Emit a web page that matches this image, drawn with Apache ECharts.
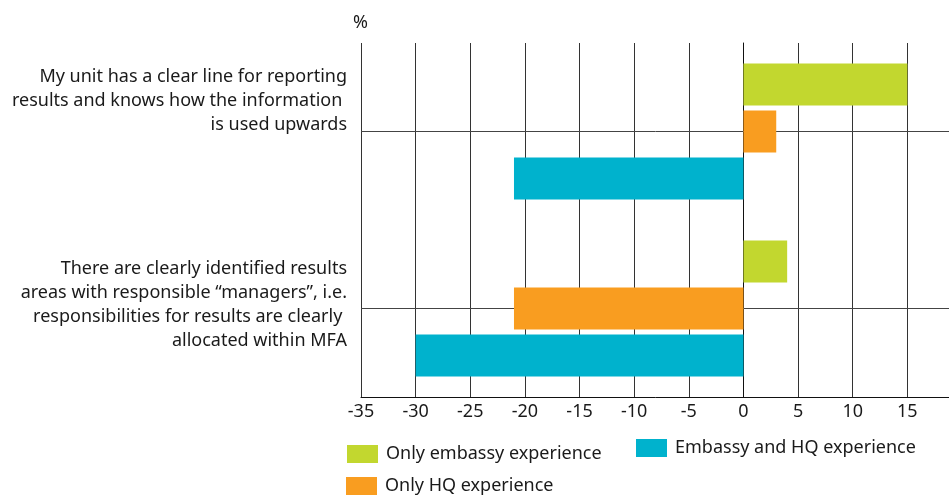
<!DOCTYPE html>
<html>
<head>
<meta charset="utf-8">
<script src="https://cdn.jsdelivr.net/npm/echarts@6/dist/echarts.min.js"></script>
<style>
    html, body { margin: 0; padding: 0; background: #fff; }
    #chart { width: 949px; height: 498px; }
</style>
</head>
<body>
<div id="chart"></div>
<script>
// statements (y axis categories)
var categories = [
    'My unit has a clear line for reporting\nresults and knows how the information \nis used upwards',
    'There are clearly identified results\nareas with responsible \u201cmanagers\u201d, i.e.\nresponsibilities for results are clearly \nallocated within MFA'
];
var seriesNames = ['Only embassy experience', 'Only HQ experience', 'Embassy and HQ experience'];
var onlyEmbassy = [15, 4];
var onlyHQ = [3, -21];
var embassyAndHQ = [-21, -30];
var xTicks = [-35, -30, -25, -20, -15, -10, -5, 0, 5, 10, 15];

var colors = ['#c2d72f', '#f99d20', '#00b2cd'];
var font = 'Noto Sans';

var chart = echarts.init(document.getElementById('chart'));

var legendBase = {
    orient: 'horizontal',
    padding: 0,
    itemWidth: 31,
    itemHeight: 18,
    icon: 'rect',
    selectedMode: false,
    textStyle: { fontFamily: font, fontSize: 18, color: '#1a1a1a', padding: [0, 0, 0, 3] }
};

var option = {
    color: colors,
    animation: false,
    title: {
        text: '%',
        left: 348,
        top: 9,
        textStyle: { fontFamily: font, fontSize: 18, fontWeight: 'normal', color: '#1a1a1a' }
    },
    legend: [
        Object.assign({}, legendBase, { data: [seriesNames[0]], left: 347, top: 445 }),
        Object.assign({}, legendBase, { data: [seriesNames[2]], left: 636, top: 439 }),
        Object.assign({}, legendBase, { data: [seriesNames[1]], left: 346, top: 477 })
    ],
    grid: {
        left: 361,
        right: -13,
        top: 43,
        bottom: 101,
        containLabel: false,
        outerBoundsMode: 'none'
    },
    xAxis: {
        type: 'value',
        min: -35,
        max: 20,
        interval: 5,
        axisLine: { show: true, onZero: false, lineStyle: { color: '#111', width: 1 } },
        axisTick: { show: false },
        axisLabel: {
            margin: 6,
            fontFamily: font,
            fontSize: 18,
            color: '#1a1a1a',
            formatter: function (v) {
                return xTicks.indexOf(v) >= 0 ? String(v) : '';
            }
        },
        splitLine: { show: true, lineStyle: { color: '#333', width: 1 } }
    },
    yAxis: {
        type: 'category',
        inverse: true,
        data: categories,
        axisLine: { show: true, lineStyle: { color: '#111', width: 1 } },
        axisTick: { show: false },
        splitLine: { show: false },
        axisLabel: {
            margin: 14,
            align: 'right',
            formatter: function (value, index) {
                var lines = value.split('\n').map(function (l) { return '{t|' + l + '}'; });
                return lines.join('\n') + '\n{s' + index + '| }';
            },
            rich: {
                t: { fontFamily: font, fontSize: 18, lineHeight: 24, color: '#1a1a1a', align: 'right' },
                s0: { fontSize: 1, lineHeight: 62 },
                s1: { fontSize: 1, lineHeight: 8 }
            }
        }
    },
    series: [
        {
            name: seriesNames[0],
            type: 'bar',
            barWidth: 42,
            barGap: '12%',
            data: onlyEmbassy
        },
        {
            name: seriesNames[1],
            type: 'bar',
            barWidth: 42,
            barGap: '12%',
            data: onlyHQ,
            // horizontal rules through the middle of each statement
            markLine: {
                silent: true,
                symbol: 'none',
                z: 1,
                label: { show: false },
                lineStyle: { color: '#444', width: 1, type: 'solid' },
                data: categories.map(function (c) { return { yAxis: c }; })
            }
        },
        {
            name: seriesNames[2],
            type: 'bar',
            barWidth: 42,
            barGap: '12%',
            data: embassyAndHQ
        }
    ]
};

chart.setOption(option);
</script>
</body>
</html>
